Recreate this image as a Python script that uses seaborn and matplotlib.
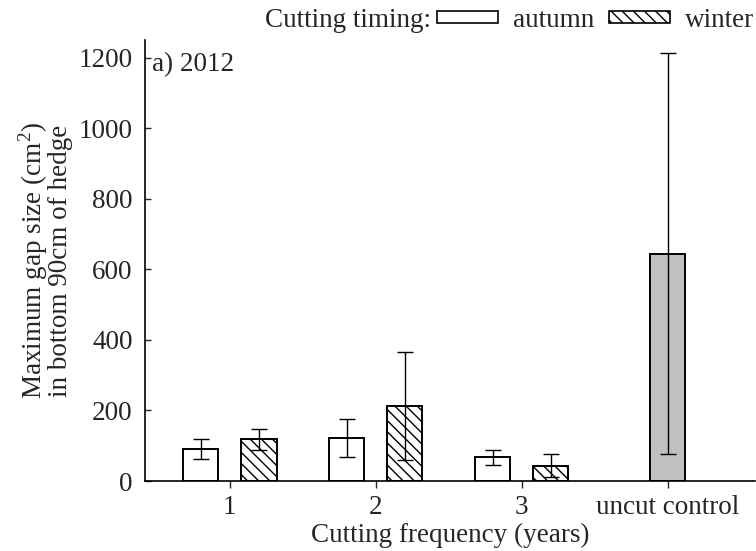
import numpy as np
import pandas as pd
import matplotlib
matplotlib.use("Agg")
import matplotlib.pyplot as plt
import seaborn as sns
from matplotlib.patches import Patch

# valores (média e meia-barra de erro)
frequencias = ['1', '2', '3']
ordem_x = ['1', '2', '3', 'uncut control']
outono = [90, 122, 67]
outono_erro = [28, 53, 21]
inverno = [118, 213, 43]
inverno_erro = [30, 152, 33]
controle = [645]
controle_erro = [568]
rotulos_y = [0, 200, 400, 600, 800, 1000, 1200]

FS = 19.5

sns.set_theme(style='ticks')
plt.rcParams['font.family'] = ['Liberation Serif', 'DejaVu Serif']
plt.rcParams['mathtext.fontset'] = 'custom'
plt.rcParams['mathtext.rm'] = 'Liberation Serif'
plt.rcParams['hatch.linewidth'] = 1.0

df = pd.DataFrame({
    'freq': frequencias * 2,
    'gap': outono + inverno,
    'erro': outono_erro + inverno_erro,
    'timing': ['autumn'] * 3 + ['winter'] * 3,
})
df_ctrl = pd.DataFrame({'freq': ['uncut control'], 'gap': controle, 'erro': controle_erro})

fig = plt.figure(figsize=(7.56, 5.51), dpi=100)
ax = fig.add_axes([0.192, 0.127, 0.807, 0.80])

sns.barplot(data=df, x='freq', y='gap', hue='timing', order=ordem_x,
            hue_order=['autumn', 'winter'], palette=['white', 'white'],
            gap=0.4, errorbar=None, edgecolor='black', linewidth=1.4,
            legend=False, ax=ax)
sns.barplot(data=df_ctrl, x='freq', y='gap', order=ordem_x, color='#c0c0c0',
            width=0.24, errorbar=None, edgecolor='black', linewidth=1.4,
            saturation=1, ax=ax)

barras = [p for p in ax.patches if p.get_height() > 0]
# primeiras 3 = autumn, seguintes 3 = winter, última = controle
for p in barras[3:6]:
    p.set_hatch('\\\\\\')
for p in barras[:6]:
    p.set_facecolor('white')

medias = outono + inverno + controle
erros = outono_erro + inverno_erro + controle_erro
xs = [p.get_x() + p.get_width() / 2 for p in barras]
ax.errorbar(xs, medias, yerr=erros, fmt='none', ecolor='black',
            elinewidth=1.0, capsize=6, capthick=1.0, zorder=5)

ax.set_xlim(-0.58, 3.6)
ax.set_ylim(0, 1250)
ax.set_yticks(rotulos_y)
ax.set_xticks(range(len(ordem_x)))
ax.set_xticklabels(ordem_x)
ax.tick_params(axis='y', direction='in', length=4, width=1, labelsize=FS, pad=9)
ax.tick_params(axis='x', direction='out', length=5, width=1, labelsize=FS, pad=5)
sns.despine(ax=ax)
for s in ['left', 'bottom']:
    ax.spines[s].set_linewidth(1.2)
    ax.spines[s].set_color('black')

ax.set_xlabel('Cutting frequency (years)', fontsize=FS, labelpad=2)
ax.set_ylabel('Maximum gap size (cm$^2$)\nin bottom 90cm of hedge', fontsize=FS,
              labelpad=4, linespacing=0.9)
ax.text(0.012, 0.945, 'a) 2012', transform=ax.transAxes, fontsize=FS, va='center')

# legenda no topo
fig.text(0.351, 0.963, 'Cutting timing:', fontsize=FS, va='center', ha='left')
alcas = [Patch(facecolor='white', edgecolor='black', linewidth=1.2),
         Patch(facecolor='white', edgecolor='black', linewidth=1.2, hatch='\\\\\\')]
fig.legend(alcas, ['autumn', 'winter'], ncol=2, frameon=False, fontsize=FS,
           loc='center left', bbox_to_anchor=(0.578, 0.963),
           handlelength=2.25, handleheight=0.3, handletextpad=0.55,
           columnspacing=0.55, borderaxespad=0, borderpad=0)

fig.savefig('out.png', dpi=100)
